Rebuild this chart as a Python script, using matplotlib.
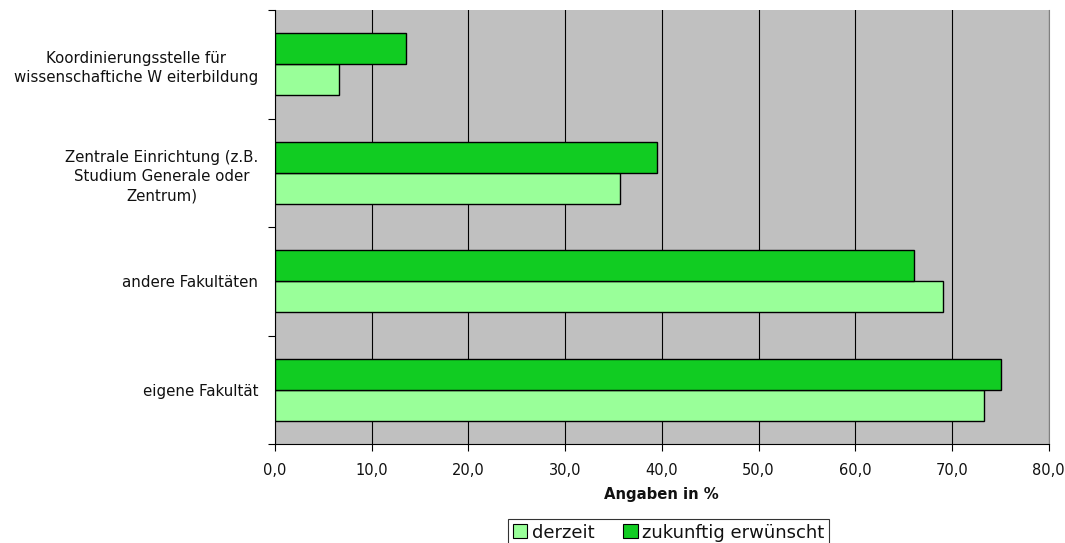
import matplotlib
matplotlib.use("Agg")
import matplotlib.pyplot as plt
import numpy as np
from matplotlib.patches import Patch

plt.rcParams['font.family'] = ['DejaVu Sans']

categories = ["eigene Fakultät", "andere Fakultäten",
              "Zentrale Einrichtung (z.B.\nStudium Generale oder\nZentrum)",
              "Koordinierungsstelle für\nwissenschaftiche W eiterbildung"]
derzeit = [73.3, 69.1, 35.7, 6.6]
zukunft = [75.1, 66.1, 39.5, 13.5]
xticks = [0, 10, 20, 30, 40, 50, 60, 70, 80]
xticklabels = ["0,0", "10,0", "20,0", "30,0", "40,0", "50,0", "60,0", "70,0", "80,0"]
series_names = ["derzeit", "zukunftig erwünscht"]
colors = ["#99FF99", "#11CC22"]

fig = plt.figure(figsize=(10.65, 5.43), dpi=100)
ax = fig.add_axes([275/1065, 1-444/543, (1048.7-275)/1065, (444-10)/543])
ax.set_facecolor("#C0C0C0")

y = np.arange(len(categories))
h = 0.286
ax.barh(y - h/2, derzeit, height=h, color=colors[0], edgecolor="black", linewidth=1.0, zorder=3)
ax.barh(y + h/2, zukunft, height=h, color=colors[1], edgecolor="black", linewidth=1.0, zorder=3)

ax.set_xlim(0, 80)
ax.set_ylim(-0.5, len(categories) - 0.5)
ax.set_xticks(xticks)
ax.set_xticklabels(xticklabels, fontsize=10.5, color="#111111")
ax.xaxis.grid(True, color="black", linewidth=0.8, zorder=1)
ax.set_axisbelow(True)

ax.set_yticks(np.arange(-0.5, len(categories), 1.0))
ax.set_yticklabels([])
ax.set_yticks(y, minor=True)
ax.set_yticklabels(categories, minor=True, fontsize=10.8, ha="right",
                   multialignment="center", linespacing=1.35, color="#111111")
ax.tick_params(axis="y", which="minor", length=0, pad=12)
ax.tick_params(axis="y", which="major", length=5, width=0.8, color="black")
ax.tick_params(axis="x", length=5, width=0.8, pad=9)

ax.spines["top"].set_visible(False)
ax.spines["right"].set_color("#808080")
ax.spines["left"].set_color("black")
ax.spines["bottom"].set_color("black")
for s in ["left", "bottom", "right"]:
    ax.spines[s].set_linewidth(0.8)

ax.set_xlabel("Angaben in %", fontsize=10.7, fontweight="bold", labelpad=6, color="#111111")

handles = [Patch(facecolor=c, edgecolor="black", linewidth=0.8) for c in colors]
leg = fig.legend(handles, series_names, loc="upper center", bbox_to_anchor=(668.5/1065, 24/543),
                 ncol=2, fontsize=13, frameon=True, fancybox=False, edgecolor="black",
                 handlelength=0.8, handleheight=0.8, handletextpad=0.25, columnspacing=1.6,
                 borderpad=0.25, borderaxespad=0)
leg.get_frame().set_linewidth(0.8)
for t in leg.get_texts():
    t.set_color("#111111")

fig.savefig("out.png", dpi=100)
